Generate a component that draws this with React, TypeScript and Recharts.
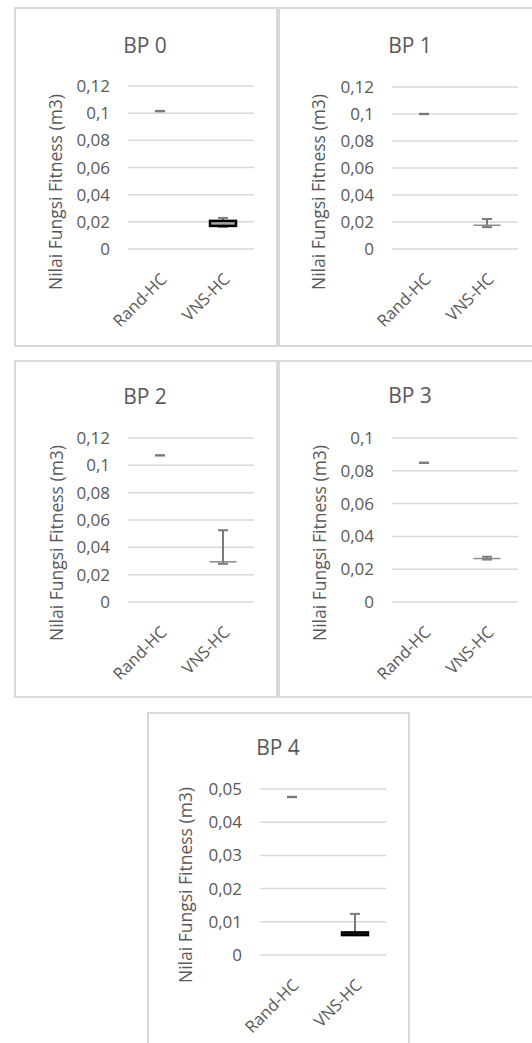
import { Bar, CartesianGrid, ComposedChart, XAxis, YAxis } from "recharts";

const categories = ["Rand-HC", "VNS-HC"];
const titles = ["BP 0", "BP 1", "BP 2", "BP 3", "BP 4"];
const yLabel = "Nilai Fungsi Fitness (m3)";

// per BP: [Rand-HC, VNS-HC]
const minValues = [
  [0.1015, 0.0163],
  [0.1, 0.0162],
  [0.1073, 0.028],
  [0.0849, 0.0259],
  [0.0476, 0.006],
];
const q1Values = [
  [0.1015, 0.017],
  [0.1, 0.0176],
  [0.1073, 0.0294],
  [0.0849, 0.0265],
  [0.0476, 0.006],
];
const q3Values = [
  [0.1015, 0.0207],
  [0.1, 0.0177],
  [0.1073, 0.0295],
  [0.0849, 0.0266],
  [0.0476, 0.0068],
];
const maxValues = [
  [0.1015, 0.0229],
  [0.1, 0.0222],
  [0.1073, 0.0525],
  [0.0849, 0.0276],
  [0.0476, 0.0124],
];
const yTicks = [
  [0, 0.02, 0.04, 0.06, 0.08, 0.1, 0.12],
  [0, 0.02, 0.04, 0.06, 0.08, 0.1, 0.12],
  [0, 0.02, 0.04, 0.06, 0.08, 0.1, 0.12],
  [0, 0.02, 0.04, 0.06, 0.08, 0.1],
  [0, 0.01, 0.02, 0.03, 0.04, 0.05],
];

// layout (page px)
const panels = [
  { x: 14, y: 7, w: 264, h: 340, pl: 128, pr: 254, pt: 86, pb: 249, tx: 145, ty: 45, lx: 56, ly: 192 },
  { x: 278, y: 7, w: 258, h: 340, pl: 392, pr: 518, pt: 87, pb: 249, tx: 410, ty: 45, lx: 319, ly: 192 },
  { x: 14, y: 360, w: 264, h: 338, pl: 128, pr: 254, pt: 438, pb: 602, tx: 145, ty: 396, lx: 57, ly: 543 },
  { x: 278, y: 360, w: 258, h: 338, pl: 392, pr: 518, pt: 438, pb: 602, tx: 410, ty: 395, lx: 320, ly: 543 },
  { x: 147, y: 712, w: 263, h: 340, pl: 260, pr: 386, pt: 789, pb: 955, tx: 278, ty: 747, lx: 186, ly: 885 },
];
const boxEdge = [
  { stroke: "#000000", sw: 2.5 },
  { stroke: "#8c8c8c", sw: 1.2 },
  { stroke: "#8c8c8c", sw: 1.2 },
  { stroke: "#8c8c8c", sw: 1.2 },
  { stroke: "#000000", sw: 2.5 },
];

const TEXT = "#595959";
const WHISKER = "#7a7a7a";
const FONT = "'Open Sans', sans-serif";

const fmt = (v: number) => String(Number(v.toFixed(4))).replace(".", ",");

function makeShape(edge: { stroke: string; sw: number }) {
  return (props: any) => {
    const { x, y, width, height, payload } = props;
    const cx = x + width / 2;
    const top = Math.min(y, y + height);
    const h = Math.abs(height);
    if (!(h > 0)) {
      return <rect x={cx - 5} y={top - 1.2} width={10} height={2.4} fill={WHISKER} />;
    }
    const span = payload.max - payload.min;
    const px = (v: number) => top + (h * (payload.max - v)) / span;
    const yMax = px(payload.max);
    const yMin = px(payload.min);
    const yQ3 = px(payload.q3);
    const yQ1 = px(payload.q1);
    return (
      <g>
        <line x1={cx} x2={cx} y1={yMax} y2={yMin} stroke={WHISKER} strokeWidth={2} />
        <line x1={cx - 5} x2={cx + 5} y1={yMax} y2={yMax} stroke={WHISKER} strokeWidth={2} />
        <line x1={cx - 5} x2={cx + 5} y1={yMin} y2={yMin} stroke={WHISKER} strokeWidth={2} />
        <rect
          x={x}
          y={yQ3}
          width={width}
          height={Math.max(yQ1 - yQ3, 0.3)}
          fill="#a6a6a6"
          stroke={edge.stroke}
          strokeWidth={edge.sw}
        />
      </g>
    );
  };
}

function BoxPanel({ b }: { b: number }) {
  const p = panels[b];
  const xAxisH = 60;
  const data = categories.map((name, i) => ({
    name,
    min: minValues[b][i],
    q1: q1Values[b][i],
    q3: q3Values[b][i],
    max: maxValues[b][i],
    range: [minValues[b][i], maxValues[b][i]],
  }));
  const ticks = yTicks[b];
  return (
    <>
      <div
        style={{
          position: "absolute",
          left: p.x,
          top: p.y,
          width: p.w,
          height: p.h,
          border: "2px solid #d9d9d9",
          boxSizing: "border-box",
          background: "#fff",
        }}
      />
      <div style={{ position: "absolute", left: p.x, top: p.y }}>
        <ComposedChart
          width={p.w}
          height={p.h}
          data={data}
          margin={{
            top: p.pt - p.y,
            right: p.x + p.w - p.pr,
            left: 0,
            bottom: p.y + p.h - p.pb - xAxisH,
          }}
        >
          <CartesianGrid vertical={false} stroke="#d9d9d9" strokeWidth={1.5} />
          <XAxis
            dataKey="name"
            interval={0}
            axisLine={false}
            tickLine={false}
            tickSize={0}
            tickMargin={23}
            height={xAxisH}
            angle={-45}
            textAnchor="end"
            tick={{ fontSize: 16.5, fill: TEXT, fontFamily: FONT }}
          />
          <YAxis
            domain={[ticks[0], ticks[ticks.length - 1]]}
            ticks={ticks}
            interval={0}
            width={p.pl - p.x}
            axisLine={false}
            tickLine={false}
            tickSize={0}
            tickMargin={18}
            tickFormatter={fmt}
            tick={{ fontSize: 17, fill: TEXT, fontFamily: FONT }}
          />
          <Bar
            dataKey="range"
            barSize={26}
            shape={makeShape(boxEdge[b])}
            isAnimationActive={false}
          />
        </ComposedChart>
      </div>
      <div
        style={{
          position: "absolute",
          left: p.tx,
          top: p.ty,
          transform: "translate(-50%, -50%)",
          fontSize: 21,
          color: TEXT,
          fontFamily: FONT,
          whiteSpace: "nowrap",
          lineHeight: 1,
        }}
      >
        {titles[b]}
      </div>
      <div
        style={{
          position: "absolute",
          left: p.lx,
          top: p.ly,
          transform: "translate(-50%, -50%) rotate(-90deg)",
          fontSize: 17.5,
          color: TEXT,
          fontFamily: FONT,
          whiteSpace: "nowrap",
          lineHeight: 1,
        }}
      >
        {yLabel}
      </div>
    </>
  );
}

export default function App() {
  return (
    <div
      style={{
        position: "absolute",
        left: 0,
        top: 0,
        width: 532,
        height: 1043,
        overflow: "hidden",
        background: "#fff",
      }}
    >
      {titles.map((_, b) => (
        <BoxPanel key={b} b={b} />
      ))}
    </div>
  );
}
